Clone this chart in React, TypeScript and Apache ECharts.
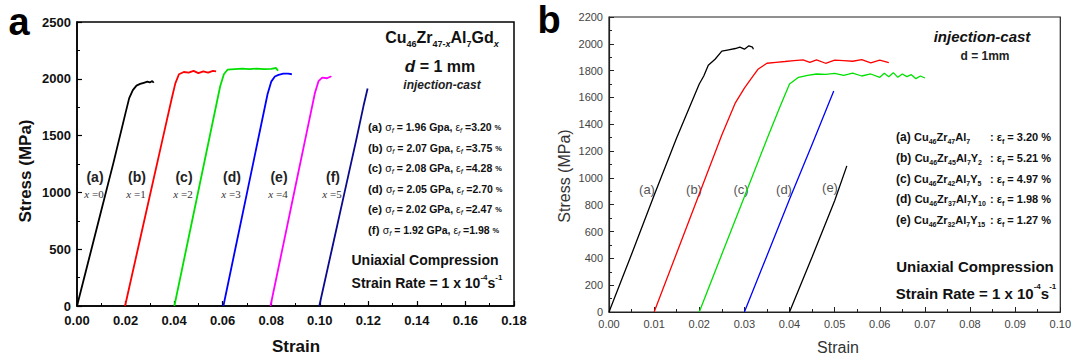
import React, { useEffect, useRef } from "react";
import * as echarts from "echarts";

// ---------- Panel a data (strain, stress MPa) ----------
const A_CURVE_A_X = [0, 0.005, 0.01, 0.015, 0.02, 0.0215, 0.023, 0.0245, 0.026, 0.0275, 0.029, 0.03, 0.031, 0.0316];
const A_CURVE_A_Y = [0, 420, 840, 1260, 1700, 1830, 1900, 1940, 1955, 1965, 1975, 1968, 1980, 1965];
const A_CURVE_B_X = [0.0198, 0.025, 0.03, 0.035, 0.039, 0.0405, 0.042, 0.044, 0.046, 0.048, 0.05, 0.052, 0.054, 0.056, 0.0573];
const A_CURVE_B_Y = [0, 495, 970, 1445, 1825, 1960, 2040, 2060, 2055, 2070, 2050, 2065, 2055, 2070, 2065];
const A_CURVE_C_X = [0.0401, 0.045, 0.05, 0.055, 0.059, 0.0605, 0.062, 0.065, 0.068, 0.071, 0.074, 0.077, 0.08, 0.082, 0.0828];
const A_CURVE_C_Y = [0, 502, 1015, 1527, 1937, 2040, 2080, 2085, 2090, 2085, 2090, 2085, 2088, 2095, 2070];
const A_CURVE_D_X = [0.0603, 0.065, 0.07, 0.075, 0.0785, 0.08, 0.0815, 0.083, 0.085, 0.087, 0.0885];
const A_CURVE_D_Y = [0, 482, 994, 1507, 1866, 1975, 2020, 2035, 2045, 2045, 2040];
const A_CURVE_E_X = [0.0797, 0.085, 0.09, 0.095, 0.098, 0.0995, 0.101, 0.103, 0.1045, 0.1047];
const A_CURVE_E_Y = [0, 543, 1056, 1568, 1875, 1980, 2010, 2005, 2020, 2015];
const A_CURVE_F_X = [0.0998, 0.105, 0.11, 0.115, 0.118, 0.1197];
const A_CURVE_F_Y = [0, 500, 980, 1460, 1760, 1915];
const A_COLORS = ["#000000", "#ff0000", "#00e000", "#0000ff", "#ff00ff", "#0a0a8c"];
const A_LEGEND_VALUES = [
  ["(a)", "1.96", "Gpa", "3.20"],
  ["(b)", "2.07", "Gpa", "3.75"],
  ["(c)", "2.08", "GPa", "4.28"],
  ["(d)", "2.05", "GPa", "2.70"],
  ["(e)", "2.02", "GPa", "2.47"],
  ["(f)", "1.92", "GPa", "1.98"],
];
const A_CURVE_TAGS = ["(a)", "(b)", "(c)", "(d)", "(e)", "(f)"];
const A_X_VALUES = ["0", "1", "2", "3", "4", "5"];

// ---------- Panel b data ----------
const B_CURVE_A_X = [0, 0.005, 0.01, 0.015, 0.02, 0.021, 0.022, 0.0235, 0.025, 0.0265, 0.028, 0.029, 0.03, 0.031, 0.0318, 0.032];
const B_CURVE_A_Y = [0, 430, 870, 1300, 1700, 1760, 1840, 1885, 1945, 1955, 1965, 1975, 1960, 1985, 1975, 1960];
const B_CURVE_B_X = [0.01, 0.015, 0.02, 0.025, 0.028, 0.03, 0.0315, 0.033, 0.035, 0.037, 0.039, 0.041, 0.043, 0.0445, 0.046, 0.048, 0.05, 0.052, 0.054, 0.056, 0.058, 0.06, 0.062];
const B_CURVE_B_Y = [0, 440, 880, 1320, 1560, 1670, 1740, 1810, 1855, 1862, 1868, 1875, 1880, 1862, 1880, 1855, 1878, 1875, 1870, 1882, 1858, 1878, 1860];
const B_CURVE_C_X = [0.02, 0.025, 0.03, 0.035, 0.038, 0.04, 0.042, 0.044, 0.046, 0.048, 0.05, 0.052, 0.054, 0.056, 0.058, 0.06, 0.061, 0.062, 0.063, 0.064, 0.065, 0.066, 0.067, 0.068, 0.069, 0.07];
const B_CURVE_C_Y = [0, 430, 860, 1290, 1540, 1700, 1750, 1765, 1775, 1772, 1780, 1765, 1782, 1760, 1775, 1750, 1780, 1755, 1785, 1750, 1775, 1755, 1770, 1740, 1760, 1745];
const B_CURVE_D_X = [0.03, 0.035, 0.04, 0.045, 0.0498];
const B_CURVE_D_Y = [0, 420, 840, 1250, 1648];
const B_CURVE_E_X = [0.04, 0.045, 0.05, 0.0527];
const B_CURVE_E_Y = [0, 410, 830, 1090];
const B_COLORS = ["#000000", "#ff0000", "#00e000", "#0000ff", "#000000"];
const B_LEGEND = [
  ["(a)", "47", "", "3.20"],
  ["(b)", "45", "2", "5.21"],
  ["(c)", "42", "5", "4.97"],
  ["(d)", "37", "10", "1.98"],
  ["(e)", "32", "15", "1.27"],
];
const B_CURVE_TAGS = ["(a)", "(b)", "(c)", "(d)", "(e)"];

const zip = (xs: number[], ys: number[]) => xs.map((x, i) => [x, ys[i]]);

const SANS = "Liberation Sans, Arial, sans-serif";

export default function App() {
  const ref = useRef<HTMLDivElement>(null);
  useEffect(() => {
    if (!ref.current) return;
    const chart = echarts.init(ref.current, undefined, { renderer: "svg" });

    const aData = [
      zip(A_CURVE_A_X, A_CURVE_A_Y),
      zip(A_CURVE_B_X, A_CURVE_B_Y),
      zip(A_CURVE_C_X, A_CURVE_C_Y),
      zip(A_CURVE_D_X, A_CURVE_D_Y),
      zip(A_CURVE_E_X, A_CURVE_E_Y),
      zip(A_CURVE_F_X, A_CURVE_F_Y),
    ];
    const bData = [
      zip(B_CURVE_A_X, B_CURVE_A_Y),
      zip(B_CURVE_B_X, B_CURVE_B_Y),
      zip(B_CURVE_C_X, B_CURVE_C_Y),
      zip(B_CURVE_D_X, B_CURVE_D_Y),
      zip(B_CURVE_E_X, B_CURVE_E_Y),
    ];

    const series: any[] = [];
    aData.forEach((d, i) =>
      series.push({
        type: "line", xAxisIndex: 0, yAxisIndex: 0, data: d, showSymbol: false,
        lineStyle: { color: A_COLORS[i], width: 1.8 }, silent: true,
      })
    );
    bData.forEach((d, i) =>
      series.push({
        type: "line", xAxisIndex: 1, yAxisIndex: 1, data: d, showSymbol: false,
        lineStyle: { color: B_COLORS[i], width: 1.3 }, silent: true,
      })
    );

    const subStyle = (size: number, extra: any = {}) => ({
      fontSize: size, fontWeight: "bold", fontFamily: SANS, lineHeight: size, verticalAlign: "bottom", ...extra,
    });
    const supStyle = (size: number) => ({
      fontSize: size, fontWeight: "bold", fontFamily: SANS, lineHeight: size, verticalAlign: "top",
    });
    const mainStyle = (size: number, lh: number, extra: any = {}) => ({
      fontSize: size, fontWeight: "bold", fontFamily: SANS, lineHeight: lh, verticalAlign: "middle", ...extra,
    });

    const txt = (x: number, y: number, text: string, st: any, extra: any = {}) => ({
      type: "text", x, y, silent: true, ...extra,
      style: { text, fill: "#111", fontFamily: SANS, align: "center", verticalAlign: "middle", ...st },
    });

    const graphic: any[] = [];
    // panel letters
    graphic.push(txt(19, 22, "a", { fontSize: 38, fontWeight: "bold", fill: "#000" }));
    graphic.push(txt(549, 20, "b", { fontSize: 38, fontWeight: "bold", fill: "#000" }));
    // axis titles a
    graphic.push(txt(25, 171, "Stress (MPa)", { fontSize: 17, fontWeight: "bold", fill: "#111" }, { rotation: Math.PI / 2 }));
    graphic.push(txt(296, 346, "Strain", { fontSize: 17, fontWeight: "bold", fill: "#111" }));
    // axis titles b
    graphic.push(txt(564, 176, "Stress (MPa)", { fontSize: 16, fill: "#333" }, { rotation: Math.PI / 2 }));
    graphic.push(txt(838, 347, "Strain", { fontSize: 16, fill: "#333" }));

    // panel a title block
    graphic.push(txt(442, 37, "{m|Cu}{s|46}{m|Zr}{s|47-}{si|x}{m|Al}{s|7}{m|Gd}{si|x}", {
      rich: {
        m: mainStyle(16, 22),
        s: subStyle(9),
        si: subStyle(9, { fontStyle: "italic" }),
      },
    }));
    graphic.push(txt(440, 66, "{i|d}{m| = 1 mm}", {
      rich: { i: mainStyle(17, 20, { fontStyle: "italic" }), m: mainStyle(16, 20) },
    }));
    graphic.push(txt(442, 85, "injection-cast", { fontSize: 12, fontWeight: "bold", fontStyle: "italic", fill: "#222" }));
    const aRowY = [127, 148, 168, 189, 209, 230];
    A_LEGEND_VALUES.forEach((r, i) => {
      graphic.push(txt(368, aRowY[i], `{b|${r[0]} }{g|σ}{s|f}{m| = ${r[1]} ${r[2]}, }{g|ε}{s|f}{m| =${r[3]} }{p|%}`, {
        align: "left",
        rich: {
          b: mainStyle(11.5, 15),
          g: mainStyle(10.5, 15, { fontWeight: "normal" }),
          m: mainStyle(10.5, 15),
          s: subStyle(7.5, { fontStyle: "italic", fontWeight: "normal" }),
          p: mainStyle(7.5, 15),
        },
      }));
    });
    graphic.push(txt(425, 260, "Uniaxial Compression", { fontSize: 14, fontWeight: "bold", fill: "#111" }));
    graphic.push(txt(427, 283, "{m|Strain Rate = 1 x 10}{u|-4}{m|s}{u|-1}", {
      rich: { m: mainStyle(14, 20), u: supStyle(8) },
    }));
    // curve tags a
    const aTagX = [95, 137, 184, 232, 279, 333];
    A_CURVE_TAGS.forEach((t, i) => {
      graphic.push(txt(aTagX[i], 177, t, { fontSize: 14, fontWeight: "bold", fill: "#222" }));
      graphic.push(txt(aTagX[i] - 1, 194, `{i|x}{n| =${A_X_VALUES[i]}}`, {
        rich: {
          i: { fontSize: 11, fontStyle: "italic", fontFamily: "Liberation Serif, serif", fill: "#333" },
          n: { fontSize: 11, fontFamily: "Liberation Serif, serif", fill: "#333" },
        },
      }));
    });

    // panel b texts
    graphic.push(txt(982, 36, "injection-cast", { fontSize: 15, fontWeight: "bold", fontStyle: "italic", fill: "#111" }));
    graphic.push(txt(985, 56, "d = 1mm", { fontSize: 12, fontWeight: "bold", fill: "#222" }));
    const bRowY = [137, 158, 179, 199, 220];
    B_LEGEND.forEach((r, i) => {
      const yPart = r[2] ? `{m|Y}{s|${r[2]}}` : "";
      graphic.push(txt(896, bRowY[i], `{b|${r[0]} }{m|Cu}{s|46}{m|Zr}{s|${r[1]}}{m|Al}{s|7}${yPart}`, {
        align: "left",
        rich: { b: mainStyle(12, 16), m: mainStyle(11, 16), s: subStyle(7) },
      }));
      graphic.push(txt(990, bRowY[i], `{m|: ε}{s|f}{m| = ${r[3]} %}`, {
        align: "left",
        rich: { m: mainStyle(11, 16), s: subStyle(7) },
      }));
    });
    graphic.push(txt(975, 266, "Uniaxial Compression", { fontSize: 15, fontWeight: "bold", fill: "#111" }));
    graphic.push(txt(976, 293, "{m|Strain Rate = 1 x 10}{u|-4}{m|s}{u|-1}", {
      rich: { m: mainStyle(15, 22), u: supStyle(8) },
    }));
    const bTagX = [647, 694, 741, 784, 830];
    const bTagY = [189, 189, 189, 189, 187];
    B_CURVE_TAGS.forEach((t, i) => {
      graphic.push(txt(bTagX[i], bTagY[i], t, { fontSize: 13, fill: "#555" }));
    });

    const axisA = {
      axisLine: { show: true, onZero: false, lineStyle: { color: "#000", width: 1.5 } },
      axisTick: { show: true, inside: true, length: 5, lineStyle: { color: "#000", width: 1.2 } },
      minorTick: { show: true, splitNumber: 2, length: 3, lineStyle: { color: "#000", width: 1 } },
      splitLine: { show: false },
      axisLabel: { color: "#111", fontSize: 13, fontWeight: "bold", fontFamily: SANS, margin: 6 },
    };
    const axisB = {
      axisLine: { show: true, onZero: false, lineStyle: { color: "#222", width: 1.2 } },
      axisTick: { show: true, inside: true, length: 5, lineStyle: { color: "#222", width: 1 } },
      minorTick: { show: true, splitNumber: 2, length: 3, lineStyle: { color: "#222", width: 1 } },
      splitLine: { show: false },
      axisLabel: { color: "#444", fontSize: 11, fontFamily: SANS, margin: 6 },
    };

    chart.setOption({
      animation: false,
      backgroundColor: "#fff",
      grid: [
        { left: 77, top: 22, width: 437, height: 284, show: true, borderColor: "#000", borderWidth: 1.5 },
        { left: 609, top: 17, width: 453, height: 295, show: true, borderColor: "#222", borderWidth: 1.2 },
      ],
      xAxis: [
        { type: "value", gridIndex: 0, min: 0, max: 0.18, interval: 0.02, ...axisA,
          axisLabel: { ...axisA.axisLabel, margin: 8, formatter: (v: number) => v.toFixed(2) } },
        { type: "value", gridIndex: 1, min: 0, max: 0.1, interval: 0.01, ...axisB,
          axisLabel: { ...axisB.axisLabel, formatter: (v: number) => v.toFixed(2) } },
      ],
      yAxis: [
        { type: "value", gridIndex: 0, min: 0, max: 2500, interval: 500, ...axisA,
          axisLabel: { ...axisA.axisLabel, formatter: (v: number) => String(v) } },
        { type: "value", gridIndex: 1, min: 0, max: 2200, interval: 200, ...axisB,
          axisLabel: { ...axisB.axisLabel, formatter: (v: number) => String(v) } },
      ],
      series,
      graphic,
    });
    return () => chart.dispose();
  }, []);
  return <div ref={ref} style={{ position: "absolute", left: 0, top: 0, width: 1074, height: 358 }} />;
}
